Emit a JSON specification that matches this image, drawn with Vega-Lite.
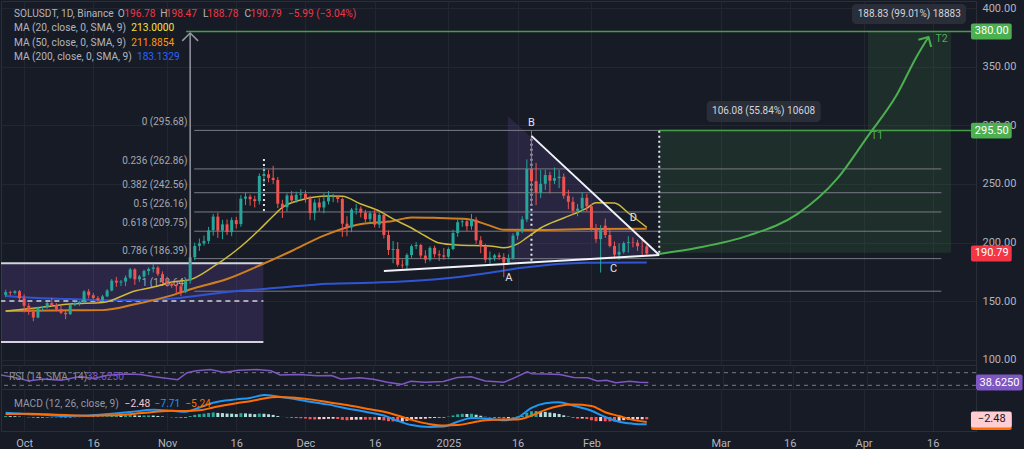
{
  "$schema": "https://vega.github.io/schema/vega-lite/v6.json",
  "background": "#171b26",
  "padding": 0,
  "spacing": 0,
  "bounds": "flush",
  "config": {
    "font": "Roboto",
    "view": {"stroke": "#2a2e39"},
    "axis": {"labelFont": "Roboto", "labelColor": "#b2b5be", "labelFontSize": 11, "ticks": false, "domainColor": "#2a2e39", "gridColor": "#222631", "minExtent": 0}
  },
  "datasets": {
    "candles": [
      {"d":"2024-09-27","o":155.5,"h":159.8,"l":153.5,"c":157.8},
      {"d":"2024-09-28","o":157.8,"h":159.0,"l":155.0,"c":157.2},
      {"d":"2024-09-29","o":157.2,"h":159.5,"l":155.8,"c":158.6},
      {"d":"2024-09-30","o":158.6,"h":159.6,"l":151.0,"c":152.6},
      {"d":"2024-10-01","o":152.6,"h":156.0,"l":140.5,"c":146.2},
      {"d":"2024-10-02","o":146.2,"h":148.5,"l":138.5,"c":141.0},
      {"d":"2024-10-03","o":141.0,"h":144.0,"l":133.0,"c":136.2},
      {"d":"2024-10-04","o":136.2,"h":145.5,"l":135.5,"c":144.5},
      {"d":"2024-10-05","o":144.5,"h":146.0,"l":142.0,"c":145.2},
      {"d":"2024-10-06","o":145.2,"h":149.5,"l":143.8,"c":148.5},
      {"d":"2024-10-07","o":148.5,"h":153.0,"l":145.5,"c":146.8},
      {"d":"2024-10-08","o":146.8,"h":148.5,"l":141.5,"c":143.2},
      {"d":"2024-10-09","o":143.2,"h":146.0,"l":139.0,"c":140.2},
      {"d":"2024-10-10","o":140.2,"h":141.8,"l":134.8,"c":139.0},
      {"d":"2024-10-11","o":139.0,"h":147.5,"l":138.5,"c":146.8},
      {"d":"2024-10-12","o":146.8,"h":149.5,"l":146.0,"c":148.6},
      {"d":"2024-10-13","o":148.6,"h":150.2,"l":146.2,"c":149.6},
      {"d":"2024-10-14","o":149.6,"h":159.5,"l":148.5,"c":158.4},
      {"d":"2024-10-15","o":158.4,"h":160.5,"l":152.5,"c":155.2},
      {"d":"2024-10-16","o":155.2,"h":157.0,"l":151.5,"c":152.8},
      {"d":"2024-10-17","o":152.8,"h":154.5,"l":148.8,"c":150.8},
      {"d":"2024-10-18","o":150.8,"h":155.5,"l":150.0,"c":154.2},
      {"d":"2024-10-19","o":154.2,"h":160.5,"l":153.5,"c":159.2},
      {"d":"2024-10-20","o":159.2,"h":169.0,"l":158.5,"c":167.6},
      {"d":"2024-10-21","o":167.6,"h":170.8,"l":162.5,"c":166.0},
      {"d":"2024-10-22","o":166.0,"h":168.2,"l":163.0,"c":166.8},
      {"d":"2024-10-23","o":166.8,"h":172.0,"l":163.0,"c":170.2},
      {"d":"2024-10-24","o":170.2,"h":178.5,"l":169.0,"c":177.2},
      {"d":"2024-10-25","o":177.2,"h":178.2,"l":164.0,"c":168.8},
      {"d":"2024-10-26","o":168.8,"h":172.5,"l":166.5,"c":171.2},
      {"d":"2024-10-27","o":171.2,"h":177.0,"l":170.0,"c":175.8},
      {"d":"2024-10-28","o":175.8,"h":179.0,"l":172.5,"c":177.6},
      {"d":"2024-10-29","o":177.6,"h":182.0,"l":174.5,"c":178.8},
      {"d":"2024-10-30","o":178.8,"h":180.0,"l":171.5,"c":173.2},
      {"d":"2024-10-31","o":173.2,"h":175.5,"l":165.0,"c":167.0},
      {"d":"2024-11-01","o":167.0,"h":171.0,"l":162.5,"c":165.0},
      {"d":"2024-11-02","o":165.0,"h":167.5,"l":161.5,"c":163.4},
      {"d":"2024-11-03","o":163.4,"h":165.0,"l":156.5,"c":162.8},
      {"d":"2024-11-04","o":162.8,"h":166.0,"l":154.5,"c":157.8},
      {"d":"2024-11-05","o":157.8,"h":169.5,"l":157.0,"c":167.6},
      {"d":"2024-11-06","o":167.6,"h":190.5,"l":165.0,"c":187.5},
      {"d":"2024-11-07","o":187.5,"h":200.0,"l":185.0,"c":197.2},
      {"d":"2024-11-08","o":197.2,"h":203.5,"l":193.0,"c":199.4},
      {"d":"2024-11-09","o":199.4,"h":206.0,"l":197.5,"c":201.5},
      {"d":"2024-11-10","o":201.5,"h":213.5,"l":199.0,"c":210.5},
      {"d":"2024-11-11","o":210.5,"h":224.5,"l":206.0,"c":222.2},
      {"d":"2024-11-12","o":222.2,"h":225.5,"l":204.0,"c":210.2},
      {"d":"2024-11-13","o":210.2,"h":219.5,"l":203.0,"c":215.6},
      {"d":"2024-11-14","o":215.6,"h":219.8,"l":206.5,"c":209.0},
      {"d":"2024-11-15","o":209.0,"h":221.5,"l":205.5,"c":219.2},
      {"d":"2024-11-16","o":219.2,"h":222.0,"l":212.0,"c":215.8},
      {"d":"2024-11-17","o":215.8,"h":240.5,"l":213.5,"c":237.5},
      {"d":"2024-11-18","o":237.5,"h":242.5,"l":232.0,"c":239.2},
      {"d":"2024-11-19","o":239.2,"h":241.0,"l":231.5,"c":237.0},
      {"d":"2024-11-20","o":237.0,"h":240.0,"l":230.0,"c":235.4},
      {"d":"2024-11-21","o":235.4,"h":259.0,"l":232.5,"c":256.8},
      {"d":"2024-11-22","o":256.8,"h":264.5,"l":250.5,"c":258.2},
      {"d":"2024-11-23","o":258.2,"h":262.0,"l":251.5,"c":255.2},
      {"d":"2024-11-24","o":255.2,"h":265.5,"l":250.0,"c":253.4},
      {"d":"2024-11-25","o":253.4,"h":256.0,"l":229.5,"c":233.2},
      {"d":"2024-11-26","o":233.2,"h":236.5,"l":221.0,"c":230.2},
      {"d":"2024-11-27","o":230.2,"h":242.0,"l":226.5,"c":240.2},
      {"d":"2024-11-28","o":240.2,"h":244.0,"l":233.0,"c":236.0},
      {"d":"2024-11-29","o":236.0,"h":243.5,"l":234.0,"c":240.8},
      {"d":"2024-11-30","o":240.8,"h":245.5,"l":236.5,"c":241.6},
      {"d":"2024-12-01","o":241.6,"h":244.5,"l":234.0,"c":237.5},
      {"d":"2024-12-02","o":237.5,"h":240.0,"l":219.5,"c":225.2},
      {"d":"2024-12-03","o":225.2,"h":237.0,"l":219.0,"c":234.2},
      {"d":"2024-12-04","o":234.2,"h":238.0,"l":226.5,"c":230.0},
      {"d":"2024-12-05","o":230.0,"h":242.0,"l":225.0,"c":235.2},
      {"d":"2024-12-06","o":235.2,"h":244.0,"l":232.5,"c":238.8},
      {"d":"2024-12-07","o":238.8,"h":241.5,"l":234.5,"c":239.2},
      {"d":"2024-12-08","o":239.2,"h":240.5,"l":234.0,"c":237.2},
      {"d":"2024-12-09","o":237.2,"h":238.5,"l":205.0,"c":216.2},
      {"d":"2024-12-10","o":216.2,"h":222.5,"l":205.5,"c":213.0},
      {"d":"2024-12-11","o":213.0,"h":229.5,"l":209.0,"c":228.2},
      {"d":"2024-12-12","o":228.2,"h":233.0,"l":224.0,"c":229.0},
      {"d":"2024-12-13","o":229.0,"h":231.0,"l":221.5,"c":225.6},
      {"d":"2024-12-14","o":225.6,"h":228.0,"l":217.5,"c":220.0},
      {"d":"2024-12-15","o":220.0,"h":227.0,"l":216.0,"c":225.0},
      {"d":"2024-12-16","o":225.0,"h":228.5,"l":213.0,"c":215.4},
      {"d":"2024-12-17","o":215.4,"h":225.5,"l":212.5,"c":223.6},
      {"d":"2024-12-18","o":223.6,"h":225.5,"l":203.5,"c":206.5},
      {"d":"2024-12-19","o":206.5,"h":210.5,"l":189.5,"c":193.8},
      {"d":"2024-12-20","o":193.8,"h":201.4,"l":182.5,"c":194.6},
      {"d":"2024-12-21","o":194.6,"h":200.5,"l":179.5,"c":181.2},
      {"d":"2024-12-22","o":181.2,"h":185.5,"l":178.0,"c":180.5},
      {"d":"2024-12-23","o":180.5,"h":191.0,"l":176.5,"c":189.5},
      {"d":"2024-12-24","o":189.5,"h":198.5,"l":187.0,"c":197.0},
      {"d":"2024-12-25","o":197.0,"h":200.5,"l":194.5,"c":198.0},
      {"d":"2024-12-26","o":198.0,"h":199.0,"l":186.5,"c":189.0},
      {"d":"2024-12-27","o":189.0,"h":193.5,"l":182.5,"c":185.6},
      {"d":"2024-12-28","o":185.6,"h":197.0,"l":184.0,"c":195.6},
      {"d":"2024-12-29","o":195.6,"h":197.5,"l":187.5,"c":190.2},
      {"d":"2024-12-30","o":190.2,"h":193.5,"l":184.5,"c":189.2},
      {"d":"2024-12-31","o":189.2,"h":195.5,"l":185.5,"c":188.0},
      {"d":"2025-01-01","o":188.0,"h":196.0,"l":186.5,"c":194.6},
      {"d":"2025-01-02","o":194.6,"h":211.0,"l":193.5,"c":208.2},
      {"d":"2025-01-03","o":208.2,"h":219.5,"l":205.0,"c":217.4},
      {"d":"2025-01-04","o":217.4,"h":220.5,"l":213.5,"c":218.2},
      {"d":"2025-01-05","o":218.2,"h":220.0,"l":210.0,"c":214.0},
      {"d":"2025-01-06","o":214.0,"h":224.5,"l":211.0,"c":219.6},
      {"d":"2025-01-07","o":219.6,"h":222.0,"l":199.0,"c":202.0},
      {"d":"2025-01-08","o":202.0,"h":205.5,"l":191.0,"c":197.0},
      {"d":"2025-01-09","o":197.0,"h":199.0,"l":183.0,"c":185.5},
      {"d":"2025-01-10","o":185.5,"h":192.5,"l":180.5,"c":187.2},
      {"d":"2025-01-11","o":187.2,"h":190.5,"l":184.5,"c":189.2},
      {"d":"2025-01-12","o":189.2,"h":191.5,"l":185.5,"c":187.8},
      {"d":"2025-01-13","o":187.8,"h":191.0,"l":170.5,"c":183.0},
      {"d":"2025-01-14","o":183.0,"h":190.0,"l":182.0,"c":186.8},
      {"d":"2025-01-15","o":186.8,"h":208.0,"l":185.5,"c":206.0},
      {"d":"2025-01-16","o":206.0,"h":212.0,"l":202.5,"c":209.8},
      {"d":"2025-01-17","o":209.8,"h":222.5,"l":208.0,"c":219.8},
      {"d":"2025-01-18","o":219.8,"h":271.0,"l":217.5,"c":262.8},
      {"d":"2025-01-19","o":262.8,"h":295.5,"l":231.5,"c":252.4},
      {"d":"2025-01-20","o":252.4,"h":268.0,"l":232.0,"c":242.6},
      {"d":"2025-01-21","o":242.6,"h":262.0,"l":238.0,"c":250.2},
      {"d":"2025-01-22","o":250.2,"h":262.0,"l":245.0,"c":257.6},
      {"d":"2025-01-23","o":257.6,"h":260.5,"l":242.0,"c":252.8},
      {"d":"2025-01-24","o":252.8,"h":264.0,"l":250.0,"c":255.0},
      {"d":"2025-01-25","o":255.0,"h":262.0,"l":246.5,"c":256.2},
      {"d":"2025-01-26","o":256.2,"h":259.0,"l":237.5,"c":240.0},
      {"d":"2025-01-27","o":240.0,"h":245.0,"l":228.5,"c":234.8},
      {"d":"2025-01-28","o":234.8,"h":239.0,"l":223.5,"c":227.2},
      {"d":"2025-01-29","o":227.2,"h":233.0,"l":222.5,"c":229.0},
      {"d":"2025-01-30","o":229.0,"h":243.0,"l":227.0,"c":238.2},
      {"d":"2025-01-31","o":238.2,"h":241.5,"l":226.5,"c":231.0},
      {"d":"2025-02-01","o":231.0,"h":233.0,"l":210.0,"c":212.6},
      {"d":"2025-02-02","o":212.6,"h":216.0,"l":200.0,"c":203.0},
      {"d":"2025-02-03","o":203.0,"h":215.0,"l":174.5,"c":211.0},
      {"d":"2025-02-04","o":214.5,"h":220.5,"l":204.0,"c":206.5},
      {"d":"2025-02-05","o":206.5,"h":211.5,"l":196.0,"c":197.2},
      {"d":"2025-02-06","o":197.2,"h":201.0,"l":186.5,"c":189.8},
      {"d":"2025-02-07","o":189.8,"h":199.5,"l":185.5,"c":192.2},
      {"d":"2025-02-08","o":192.2,"h":201.0,"l":190.5,"c":199.6},
      {"d":"2025-02-09","o":199.6,"h":205.5,"l":191.5,"c":200.4},
      {"d":"2025-02-10","o":200.4,"h":204.5,"l":196.0,"c":200.0},
      {"d":"2025-02-11","o":200.0,"h":202.5,"l":193.0,"c":197.0},
      {"d":"2025-02-12","o":197.0,"h":204.5,"l":189.5,"c":196.78},
      {"d":"2025-02-13","o":196.78,"h":198.47,"l":188.78,"c":190.79}
    ],
    "ma20": [
      {"d":"2024-09-27","p":141.8},{"d":"2024-10-04","p":144.6},{"d":"2024-10-11","p":147.7},{"d":"2024-10-18","p":148.9},
      {"d":"2024-10-25","p":158.8},{"d":"2024-10-30","p":163.0},{"d":"2024-11-02","p":166.5},{"d":"2024-11-06","p":168.5},
      {"d":"2024-11-11","p":179.5},{"d":"2024-11-16","p":193.5},{"d":"2024-11-21","p":211.0},{"d":"2024-11-24","p":222.7},
      {"d":"2024-11-26","p":230.0},{"d":"2024-11-30","p":236.4},{"d":"2024-12-06","p":239.8},{"d":"2024-12-09","p":239.5},
      {"d":"2024-12-13","p":233.0},{"d":"2024-12-17","p":227.0},{"d":"2024-12-20","p":220.2},{"d":"2024-12-24","p":212.5},
      {"d":"2024-12-27","p":205.7},{"d":"2024-12-30","p":199.7},{"d":"2025-01-03","p":198.0},{"d":"2025-01-10","p":197.2},
      {"d":"2025-01-13","p":195.7},{"d":"2025-01-16","p":198.9},{"d":"2025-01-18","p":204.2},{"d":"2025-01-21","p":212.5},
      {"d":"2025-01-26","p":221.0},{"d":"2025-01-31","p":229.5},{"d":"2025-02-02","p":234.0},{"d":"2025-02-06","p":233.8},
      {"d":"2025-02-09","p":225.3},{"d":"2025-02-13","p":213.0}
    ],
    "ma50": [
      {"d":"2024-09-27","p":141.8},{"d":"2024-10-11","p":142.3},{"d":"2024-10-18","p":142.5},{"d":"2024-10-25","p":147.5},
      {"d":"2024-11-01","p":154.0},{"d":"2024-11-07","p":161.4},{"d":"2024-11-14","p":169.0},{"d":"2024-11-21","p":180.5},
      {"d":"2024-11-28","p":192.9},{"d":"2024-12-05","p":206.0},{"d":"2024-12-12","p":215.0},{"d":"2024-12-20","p":218.5},
      {"d":"2024-12-24","p":221.5},{"d":"2024-12-30","p":221.0},{"d":"2025-01-05","p":220.2},{"d":"2025-01-10","p":214.5},
      {"d":"2025-01-13","p":211.0},{"d":"2025-01-21","p":210.8},{"d":"2025-01-31","p":211.6},{"d":"2025-02-13","p":211.9}
    ],
    "ma200": [
      {"d":"2024-09-27","p":154.5},{"d":"2024-10-04","p":152.8},{"d":"2024-10-11","p":152.0},{"d":"2024-10-18","p":151.0},
      {"d":"2024-10-25","p":151.0},{"d":"2024-11-02","p":152.3},{"d":"2024-11-14","p":158.0},{"d":"2024-11-25","p":161.5},
      {"d":"2024-12-06","p":165.0},{"d":"2024-12-15","p":165.8},{"d":"2024-12-30","p":169.0},{"d":"2025-01-10","p":174.4},
      {"d":"2025-01-17","p":178.6},{"d":"2025-01-31","p":182.9},{"d":"2025-02-13","p":183.1}
    ],
    "fib": [
      {"p":295.68,"t":"0 (295.68)"},{"p":262.86,"t":"0.236 (262.86)"},{"p":242.56,"t":"0.382 (242.56)"},
      {"p":226.16,"t":"0.5 (226.16)"},{"p":209.75,"t":"0.618 (209.75)"},{"p":186.39,"t":"0.786 (186.39)"},{"p":158.64,"t":"1 (158.64)"}
    ],
    "curve": [
      {"d":"2025-02-15T17:00:00Z","p":190.3},{"d":"2025-02-24T07:00:00Z","p":195.8},{"d":"2025-03-07T00:00:00Z","p":206.0},
      {"d":"2025-03-17T17:00:00Z","p":224.5},{"d":"2025-03-26T07:00:00Z","p":254.5},{"d":"2025-04-01T19:00:00Z","p":290.0},
      {"d":"2025-04-08T05:00:00Z","p":326.0},{"d":"2025-04-12T12:00:00Z","p":358.5},{"d":"2025-04-15T02:00:00Z","p":375.3}
    ],
    "rsi": [
      {"d":"2024-09-27","r":63},{"d":"2024-10-01","r":52},{"d":"2024-10-03","r":44},{"d":"2024-10-06","r":50},
      {"d":"2024-10-10","r":46},{"d":"2024-10-14","r":58},{"d":"2024-10-17","r":52},{"d":"2024-10-20","r":62},
      {"d":"2024-10-24","r":66},{"d":"2024-10-27","r":64},{"d":"2024-10-30","r":57},{"d":"2024-11-04","r":48},
      {"d":"2024-11-06","r":70},{"d":"2024-11-08","r":76},{"d":"2024-11-11","r":80},{"d":"2024-11-14","r":71},
      {"d":"2024-11-17","r":78},{"d":"2024-11-21","r":80},{"d":"2024-11-24","r":76},{"d":"2024-11-26","r":63},
      {"d":"2024-11-30","r":64},{"d":"2024-12-04","r":60},{"d":"2024-12-07","r":61},{"d":"2024-12-09","r":50},
      {"d":"2024-12-13","r":54},{"d":"2024-12-16","r":49},{"d":"2024-12-19","r":40},{"d":"2024-12-22","r":33},
      {"d":"2024-12-24","r":43},{"d":"2024-12-27","r":40},{"d":"2024-12-31","r":42},{"d":"2025-01-03","r":55},
      {"d":"2025-01-06","r":57},{"d":"2025-01-09","r":44},{"d":"2025-01-13","r":40},{"d":"2025-01-15","r":52},
      {"d":"2025-01-18","r":73},{"d":"2025-01-19","r":67},{"d":"2025-01-22","r":66},{"d":"2025-01-25","r":64},
      {"d":"2025-01-28","r":55},{"d":"2025-01-31","r":54},{"d":"2025-02-02","r":44},{"d":"2025-02-04","r":46},
      {"d":"2025-02-06","r":38},{"d":"2025-02-09","r":43},{"d":"2025-02-11","r":40},{"d":"2025-02-13","r":38.6}
    ],
    "macd": [
      {"d":"2024-09-27","m":4.5,"s":3.2},{"d":"2024-10-02","m":3.0,"s":3.4},{"d":"2024-10-06","m":2.2,"s":2.8},
      {"d":"2024-10-10","m":1.0,"s":2.0},{"d":"2024-10-15","m":1.5,"s":1.3},{"d":"2024-10-20","m":3.5,"s":1.8},
      {"d":"2024-10-24","m":5.2,"s":3.0},{"d":"2024-10-29","m":7.5,"s":5.2},{"d":"2024-11-02","m":6.5,"s":6.5},
      {"d":"2024-11-05","m":5.5,"s":6.3},{"d":"2024-11-08","m":10.0,"s":7.0},{"d":"2024-11-11","m":15.0,"s":10.0},
      {"d":"2024-11-16","m":18.5,"s":14.5},{"d":"2024-11-19","m":20.0,"s":16.5},{"d":"2024-11-22","m":23.0,"s":19.5},
      {"d":"2024-11-25","m":21.5,"s":21.0},{"d":"2024-11-28","m":19.5,"s":20.5},{"d":"2024-12-02","m":16.0,"s":18.5},
      {"d":"2024-12-06","m":13.0,"s":15.5},{"d":"2024-12-10","m":9.0,"s":12.5},{"d":"2024-12-14","m":5.5,"s":9.0},
      {"d":"2024-12-18","m":1.5,"s":5.5},{"d":"2024-12-21","m":-4.0,"s":1.5},{"d":"2024-12-24","m":-8.5,"s":-3.0},
      {"d":"2024-12-28","m":-10.5,"s":-7.5},{"d":"2024-12-31","m":-10.0,"s":-9.0},{"d":"2025-01-03","m":-5.0,"s":-8.5},
      {"d":"2025-01-06","m":-1.0,"s":-6.0},{"d":"2025-01-09","m":-1.5,"s":-3.5},{"d":"2025-01-13","m":-3.5,"s":-2.5},
      {"d":"2025-01-16","m":-0.5,"s":-2.5},{"d":"2025-01-19","m":9.5,"s":1.5},{"d":"2025-01-22","m":14.5,"s":7.5},
      {"d":"2025-01-25","m":15.5,"s":11.5},{"d":"2025-01-28","m":12.0,"s":13.0},{"d":"2025-02-01","m":6.5,"s":11.5},
      {"d":"2025-02-04","m":0.0,"s":5.0},{"d":"2025-02-07","m":-5.0,"s":1.0},{"d":"2025-02-10","m":-7.0,"s":-3.0},
      {"d":"2025-02-13","m":-7.71,"s":-5.24}
    ],
    "hist": [
      {"d":"2024-09-27","v":1.0},{"d":"2024-09-28","v":0.9},{"d":"2024-09-29","v":0.8},{"d":"2024-09-30","v":0.4},
      {"d":"2024-10-01","v":0.05},{"d":"2024-10-02","v":-0.4},{"d":"2024-10-03","v":-0.8},{"d":"2024-10-04","v":-0.7},
      {"d":"2024-10-05","v":-0.6},{"d":"2024-10-06","v":-0.4},{"d":"2024-10-07","v":-0.3},{"d":"2024-10-08","v":-0.4},
      {"d":"2024-10-09","v":-0.6},{"d":"2024-10-10","v":-0.7},{"d":"2024-10-11","v":-0.4},{"d":"2024-10-12","v":-0.2},
      {"d":"2024-10-13","v":-0.1},{"d":"2024-10-14","v":0.4},{"d":"2024-10-15","v":0.6},{"d":"2024-10-16","v":0.55},
      {"d":"2024-10-17","v":0.5},{"d":"2024-10-18","v":0.6},{"d":"2024-10-19","v":0.8},{"d":"2024-10-20","v":1.4},
      {"d":"2024-10-21","v":1.6},{"d":"2024-10-22","v":1.55},{"d":"2024-10-23","v":1.8},{"d":"2024-10-24","v":2.1},
      {"d":"2024-10-25","v":1.7},{"d":"2024-10-26","v":1.5},{"d":"2024-10-27","v":1.6},{"d":"2024-10-28","v":1.65},
      {"d":"2024-10-29","v":1.5},{"d":"2024-10-30","v":1.1},{"d":"2024-10-31","v":0.5},{"d":"2024-11-01","v":0.05},
      {"d":"2024-11-02","v":-0.4},{"d":"2024-11-03","v":-0.7},{"d":"2024-11-04","v":-1.0},{"d":"2024-11-05","v":-0.6},
      {"d":"2024-11-06","v":0.9},{"d":"2024-11-07","v":2.2},{"d":"2024-11-08","v":3.0},{"d":"2024-11-09","v":3.5},
      {"d":"2024-11-10","v":4.2},{"d":"2024-11-11","v":4.8},{"d":"2024-11-12","v":4.3},{"d":"2024-11-13","v":4.1},
      {"d":"2024-11-14","v":3.6},{"d":"2024-11-15","v":3.5},{"d":"2024-11-16","v":3.1},{"d":"2024-11-17","v":4.0},
      {"d":"2024-11-18","v":3.8},{"d":"2024-11-19","v":3.4},{"d":"2024-11-20","v":3.0},{"d":"2024-11-21","v":3.6},
      {"d":"2024-11-22","v":3.4},{"d":"2024-11-23","v":2.9},{"d":"2024-11-24","v":2.2},{"d":"2024-11-25","v":1.0},
      {"d":"2024-11-26","v":0.05},{"d":"2024-11-27","v":-0.4},{"d":"2024-11-28","v":-0.9},{"d":"2024-11-29","v":-1.1},
      {"d":"2024-11-30","v":-1.3},{"d":"2024-12-01","v":-1.6},{"d":"2024-12-02","v":-2.4},{"d":"2024-12-03","v":-2.6},
      {"d":"2024-12-04","v":-2.4},{"d":"2024-12-05","v":-2.2},{"d":"2024-12-06","v":-1.9},{"d":"2024-12-07","v":-1.8},
      {"d":"2024-12-08","v":-2.1},{"d":"2024-12-09","v":-3.0},{"d":"2024-12-10","v":-3.4},{"d":"2024-12-11","v":-3.0},
      {"d":"2024-12-12","v":-2.8},{"d":"2024-12-13","v":-2.7},{"d":"2024-12-14","v":-2.75},{"d":"2024-12-15","v":-2.8},
      {"d":"2024-12-16","v":-3.0},{"d":"2024-12-17","v":-2.95},{"d":"2024-12-18","v":-3.6},{"d":"2024-12-19","v":-4.4},
      {"d":"2024-12-20","v":-4.6},{"d":"2024-12-21","v":-4.9},{"d":"2024-12-22","v":-4.8},{"d":"2024-12-23","v":-4.0},
      {"d":"2024-12-24","v":-3.0},{"d":"2024-12-25","v":-2.2},{"d":"2024-12-26","v":-2.0},{"d":"2024-12-27","v":-1.8},
      {"d":"2024-12-28","v":-1.2},{"d":"2024-12-29","v":-1.0},{"d":"2024-12-30","v":-0.7},{"d":"2024-12-31","v":-0.6},
      {"d":"2025-01-01","v":0.4},{"d":"2025-01-02","v":1.6},{"d":"2025-01-03","v":2.8},{"d":"2025-01-04","v":3.3},
      {"d":"2025-01-05","v":3.2},{"d":"2025-01-06","v":3.4},{"d":"2025-01-07","v":2.4},{"d":"2025-01-08","v":1.3},
      {"d":"2025-01-09","v":0.2},{"d":"2025-01-10","v":-0.6},{"d":"2025-01-11","v":-1.0},{"d":"2025-01-12","v":-1.3},
      {"d":"2025-01-13","v":-1.6},{"d":"2025-01-14","v":-1.5},{"d":"2025-01-15","v":-0.4},{"d":"2025-01-16","v":0.5},
      {"d":"2025-01-17","v":1.4},{"d":"2025-01-18","v":4.5},{"d":"2025-01-19","v":6.0},{"d":"2025-01-20","v":6.3},
      {"d":"2025-01-21","v":5.8},{"d":"2025-01-22","v":5.4},{"d":"2025-01-23","v":4.6},{"d":"2025-01-24","v":4.0},
      {"d":"2025-01-25","v":3.2},{"d":"2025-01-26","v":1.8},{"d":"2025-01-27","v":0.4},{"d":"2025-01-28","v":-0.9},
      {"d":"2025-01-29","v":-1.7},{"d":"2025-01-30","v":-1.6},{"d":"2025-01-31","v":-2.2},{"d":"2025-02-01","v":-3.4},
      {"d":"2025-02-02","v":-4.4},{"d":"2025-02-03","v":-4.3},{"d":"2025-02-04","v":-4.5},{"d":"2025-02-05","v":-4.6},
      {"d":"2025-02-06","v":-4.7},{"d":"2025-02-07","v":-4.0},{"d":"2025-02-08","v":-3.3},{"d":"2025-02-09","v":-2.8},
      {"d":"2025-02-10","v":-2.6},{"d":"2025-02-11","v":-2.5},{"d":"2025-02-12","v":-2.45},{"d":"2025-02-13","v":-2.48}
    ]
  },
  "vconcat": [
    {
      "width": 975,
      "height": 364,
      "layer": [
        {
          "data": {"values": [
            {"d":"2025-02-15T17:00:00Z","d2":"2025-04-20T00:00:00Z","p":191.4,"p2":295.5},
            {"d":"2025-04-01T23:00:00Z","d2":"2025-04-20T00:00:00Z","p":295.5,"p2":380}
          ]},
          "mark": {"type": "rect", "color": "#4caf50", "opacity": 0.13},
          "encoding": {
            "x": {"field": "d", "type": "temporal",
              "scale": {"type": "utc", "domain": [{"year":2024,"month":9,"date":27,"hours":1,"minutes":45,"utc":true},{"year":2025,"month":4,"date":24,"hours":7,"minutes":12,"utc":true}]},
              "axis": {"title": null, "labels": false, "domain": false, "ticks": false, "grid": true,
                "values": [{"year":2024,"month":10,"date":1,"utc":true},{"year":2024,"month":10,"date":16,"utc":true},{"year":2024,"month":11,"date":1,"utc":true},{"year":2024,"month":11,"date":16,"utc":true},{"year":2024,"month":12,"date":1,"utc":true},{"year":2024,"month":12,"date":16,"utc":true},{"year":2025,"month":1,"date":1,"utc":true},{"year":2025,"month":1,"date":16,"utc":true},{"year":2025,"month":2,"date":1,"utc":true},{"year":2025,"month":3,"date":1,"utc":true},{"year":2025,"month":3,"date":16,"utc":true},{"year":2025,"month":4,"date":1,"utc":true},{"year":2025,"month":4,"date":16,"utc":true}]}},
            "x2": {"field": "d2"},
            "y": {"field": "p", "type": "quantitative",
              "scale": {"domain": [95.73, 405.97], "nice": false, "zero": false},
              "axis": {"title": null, "orient": "right", "values": [100,125,150,175,200,225,250,275,300,325,350,375,400], "format": ".2f", "grid": true, "labelPadding": 6, "domain": true}},
            "y2": {"field": "p2"}
          }
        },
        {
          "data": {"values": [{"d":"2024-09-20","d2":"2024-11-21T21:00:00Z","p":115.3,"p2":182.4}]},
          "mark": {"type": "rect", "color": "#7e57c2", "opacity": 0.2, "clip": true},
          "encoding": {"x": {"field": "d", "type": "temporal"}, "x2": {"field": "d2"}, "y": {"field": "p", "type": "quantitative"}, "y2": {"field": "p2"}}
        },
        {
          "data": {"values": [{"d":"2025-01-13T21:00:00Z","p":308,"p2":182.7},{"d":"2025-02-15T17:00:00Z","p":189.5,"p2":189.5}]},
          "mark": {"type": "area", "color": "#7e57c2", "opacity": 0.17},
          "encoding": {"x": {"field": "d", "type": "temporal"}, "y": {"field": "p", "type": "quantitative"}, "y2": {"field": "p2"}}
        },
        {
          "data": {"name": "fib"},
          "mark": {"type": "rule", "color": "#787b86", "strokeWidth": 1},
          "encoding": {
            "x": {"datum": {"year":2024,"month":11,"date":6,"hours":21,"utc":true}, "type": "temporal"},
            "x2": {"datum": {"year":2025,"month":4,"date":17,"hours":21,"utc":true}},
            "y": {"field": "p", "type": "quantitative"}
          }
        },
        {
          "data": {"name": "fib"},
          "mark": {"type": "text", "color": "#a5a8b1", "fontSize": 10, "align": "right", "baseline": "middle", "dy": -8},
          "encoding": {
            "x": {"datum": {"year":2024,"month":11,"date":5,"hours":10,"utc":true}, "type": "temporal"},
            "y": {"field": "p", "type": "quantitative"},
            "text": {"field": "t"}
          }
        },
        {
          "data": {"values": [{"d":"2024-09-20","d2":"2024-11-21T21:00:00Z","p":182.4},{"d":"2024-09-20","d2":"2024-11-21T21:00:00Z","p":115.3}]},
          "mark": {"type": "rule", "color": "#d1d4dc", "strokeWidth": 2, "clip": true},
          "encoding": {"x": {"field": "d", "type": "temporal"}, "x2": {"field": "d2"}, "y": {"field": "p", "type": "quantitative"}}
        },
        {
          "data": {"values": [{"d":"2024-09-20","d2":"2024-11-21T21:00:00Z","p":150.3}]},
          "mark": {"type": "rule", "color": "#d1d4dc", "strokeWidth": 1.5, "strokeDash": [5, 4], "clip": true},
          "encoding": {"x": {"field": "d", "type": "temporal"}, "x2": {"field": "d2"}, "y": {"field": "p", "type": "quantitative"}}
        },
        {
          "mark": {"type": "rule", "color": "#f23645", "strokeWidth": 1, "strokeDash": [1, 2], "opacity": 0.8},
          "encoding": {"y": {"datum": 190.79, "type": "quantitative"}}
        },
        {
          "data": {"values": [{"d":"2024-11-05T03:00:00Z","p":380},{"d":"2025-02-15T17:00:00Z","p":295.5}]},
          "mark": {"type": "rule", "color": "#43a047", "strokeWidth": 1.5},
          "encoding": {"x": {"field": "d", "type": "temporal"}, "x2": {"datum": {"year":2025,"month":4,"date":24,"hours":7,"minutes":12,"utc":true}}, "y": {"field": "p", "type": "quantitative"}}
        },
        {
          "data": {"values": [{"d":"2025-02-15T17:00:00Z","p":191.4,"p2":295.5},{"d":"2025-01-19","p":184.5,"p2":290},{"d":"2024-11-22","p":227,"p2":271.3}]},
          "mark": {"type": "rule", "color": "#e0e3eb", "strokeWidth": 2, "strokeDash": [2, 3]},
          "encoding": {"x": {"field": "d", "type": "temporal"}, "y": {"field": "p", "type": "quantitative"}, "y2": {"field": "p2"}}
        },
        {
          "data": {"name": "ma200"},
          "mark": {"type": "line", "color": "#2f55d4", "strokeWidth": 2, "interpolate": "monotone", "clip": true},
          "encoding": {"x": {"field": "d", "type": "temporal"}, "y": {"field": "p", "type": "quantitative"}}
        },
        {
          "data": {"name": "ma50"},
          "mark": {"type": "line", "color": "#cf7f1f", "strokeWidth": 2, "interpolate": "monotone", "clip": true},
          "encoding": {"x": {"field": "d", "type": "temporal"}, "y": {"field": "p", "type": "quantitative"}}
        },
        {
          "data": {"name": "ma20"},
          "mark": {"type": "line", "color": "#cdb93a", "strokeWidth": 1.5, "interpolate": "monotone", "clip": true},
          "encoding": {"x": {"field": "d", "type": "temporal"}, "y": {"field": "p", "type": "quantitative"}}
        },
        {
          "data": {"name": "candles"},
          "mark": {"type": "rule", "strokeWidth": 1, "clip": true},
          "encoding": {
            "x": {"field": "d", "type": "temporal"},
            "y": {"field": "l", "type": "quantitative"},
            "y2": {"field": "h"},
            "color": {"condition": {"test": "datum.c >= datum.o", "value": "#26a69a"}, "value": "#ef5350"}
          }
        },
        {
          "data": {"name": "candles"},
          "mark": {"type": "bar", "size": 3, "clip": true},
          "encoding": {
            "x": {"field": "d", "type": "temporal"},
            "y": {"field": "o", "type": "quantitative"},
            "y2": {"field": "c"},
            "color": {"condition": {"test": "datum.c >= datum.o", "value": "#26a69a"}, "value": "#ef5350"}
          }
        },
        {
          "data": {"values": [{"d":"2025-01-19","p":291,"d2":"2025-02-15T17:00:00Z","p2":189.5},{"d":"2024-12-18","p":175.8,"d2":"2025-02-15T17:00:00Z","p2":189.5}]},
          "mark": {"type": "rule", "color": "#f0f3fa", "strokeWidth": 2},
          "encoding": {"x": {"field": "d", "type": "temporal"}, "x2": {"field": "d2"}, "y": {"field": "p", "type": "quantitative"}, "y2": {"field": "p2"}}
        },
        {
          "data": {"values": [{"d":"2024-11-06","p":182.4,"p2":378.7}]},
          "mark": {"type": "rule", "color": "#9598a1", "strokeWidth": 1.5},
          "encoding": {"x": {"field": "d", "type": "temporal"}, "y": {"field": "p", "type": "quantitative"}, "y2": {"field": "p2"}}
        },
        {
          "data": {"values": [{"d":"2024-11-06","p":378.7}]},
          "mark": {"type": "point", "shape": "M-1,1L0,0L1,1", "size": 250, "filled": false, "stroke": "#9598a1", "strokeWidth": 1.5, "opacity": 1},
          "encoding": {"x": {"field": "d", "type": "temporal"}, "y": {"field": "p", "type": "quantitative"}}
        },
        {
          "data": {"name": "curve"},
          "mark": {"type": "line", "color": "#4caf50", "strokeWidth": 2, "interpolate": "monotone"},
          "encoding": {"x": {"field": "d", "type": "temporal"}, "y": {"field": "p", "type": "quantitative"}}
        },
        {
          "data": {"values": [{"d":"2025-04-15T02:00:00Z","p":375.3}]},
          "mark": {"type": "point", "shape": "M-1,1L0,0L1,1", "size": 220, "filled": false, "stroke": "#4caf50", "strokeWidth": 2, "angle": 30, "opacity": 1},
          "encoding": {"x": {"field": "d", "type": "temporal"}, "y": {"field": "p", "type": "quantitative"}}
        },
        {
          "data": {"values": [
            {"d":"2025-01-19","p":302.0,"t":"B"},{"d":"2025-01-14T02:00:00Z","p":169.9,"t":"A"},
            {"d":"2025-02-05T19:00:00Z","p":177.6,"t":"C"},{"d":"2025-02-10T02:00:00Z","p":221.0,"t":"D"}
          ]},
          "mark": {"type": "text", "color": "#e0e3eb", "fontSize": 11, "align": "center", "baseline": "middle"},
          "encoding": {"x": {"field": "d", "type": "temporal"}, "y": {"field": "p", "type": "quantitative"}, "text": {"field": "t"}}
        },
        {
          "data": {"values": [{"d":"2025-04-03T22:00:00Z","p":290.9,"t":"T1"},{"d":"2025-04-17T22:00:00Z","p":373.6,"t":"T2"}]},
          "mark": {"type": "text", "color": "#4caf50", "fontSize": 10.5, "align": "center", "baseline": "middle"},
          "encoding": {"x": {"field": "d", "type": "temporal"}, "y": {"field": "p", "type": "quantitative"}, "text": {"field": "t"}}
        },
        {
          "data": {"values": [
            {"d":"2025-02-26","d2":"2025-03-22T17:00:00Z","p":302.8,"p2":320.7},
            {"d":"2025-03-29T12:00:00Z","d2":"2025-04-23T05:00:00Z","p":386.4,"p2":403.4}
          ]},
          "mark": {"type": "rect", "color": "#2a2e39", "cornerRadius": 4},
          "encoding": {"x": {"field": "d", "type": "temporal"}, "x2": {"field": "d2"}, "y": {"field": "p", "type": "quantitative"}, "y2": {"field": "p2"}}
        },
        {
          "data": {"values": [
            {"d":"2025-03-10T08:00:00Z","p":311.8,"t":"106.08 (55.84%) 10608"},
            {"d":"2025-04-10T22:00:00Z","p":394.9,"t":"188.83 (99.01%) 18883"}
          ]},
          "mark": {"type": "text", "color": "#d1d4dc", "fontSize": 10, "align": "center", "baseline": "middle"},
          "encoding": {"x": {"field": "d", "type": "temporal"}, "y": {"field": "p", "type": "quantitative"}, "text": {"field": "t"}}
        },
        {
          "data": {"values": [
            {"d":"2024-09-28T19:00:00Z","p":394.9,"t":"SOLUSDT, 1D, Binance"},
            {"d":"2024-10-21T07:00:00Z","p":394.9,"t":"O"},
            {"d":"2024-10-30T12:00:00Z","p":394.9,"t":"H"},
            {"d":"2024-11-08T19:00:00Z","p":394.9,"t":"L"},
            {"d":"2024-11-17T19:00:00Z","p":394.9,"t":"C"},
            {"d":"2024-09-28T19:00:00Z","p":382.6,"t":"MA (20, close, 0, SMA, 9)"},
            {"d":"2024-09-28T19:00:00Z","p":370.3,"t":"MA (50, close, 0, SMA, 9)"},
            {"d":"2024-09-28T19:00:00Z","p":358.4,"t":"MA (200, close, 0, SMA, 9)"}
          ]},
          "mark": {"type": "text", "color": "#b2b5be", "fontSize": 10.2, "align": "left", "baseline": "middle"},
          "encoding": {"x": {"field": "d", "type": "temporal"}, "y": {"field": "p", "type": "quantitative"}, "text": {"field": "t"}}
        },
        {
          "data": {"values": [
            {"d":"2024-10-22T17:00:00Z","p":394.9,"t":"196.78"},
            {"d":"2024-10-31T17:00:00Z","p":394.9,"t":"198.47"},
            {"d":"2024-11-09T17:00:00Z","p":394.9,"t":"188.78"},
            {"d":"2024-11-19T02:00:00Z","p":394.9,"t":"190.79"},
            {"d":"2024-11-27T05:00:00Z","p":394.9,"t":"−5.99 (−3.04%)"}
          ]},
          "mark": {"type": "text", "color": "#f23645", "fontSize": 10.2, "align": "left", "baseline": "middle"},
          "encoding": {"x": {"field": "d", "type": "temporal"}, "y": {"field": "p", "type": "quantitative"}, "text": {"field": "t"}}
        },
        {
          "data": {"values": [{"d":"2024-10-24T06:00:00Z","p":382.6,"t":"213.0000"}]},
          "mark": {"type": "text", "color": "#f7e13b", "fontSize": 10.2, "align": "left", "baseline": "middle"},
          "encoding": {"x": {"field": "d", "type": "temporal"}, "y": {"field": "p", "type": "quantitative"}, "text": {"field": "t"}}
        },
        {
          "data": {"values": [{"d":"2024-10-24T06:00:00Z","p":370.3,"t":"211.8854"}]},
          "mark": {"type": "text", "color": "#ff9800", "fontSize": 10.2, "align": "left", "baseline": "middle"},
          "encoding": {"x": {"field": "d", "type": "temporal"}, "y": {"field": "p", "type": "quantitative"}, "text": {"field": "t"}}
        },
        {
          "data": {"values": [{"d":"2024-10-25T11:00:00Z","p":358.4,"t":"183.1329"}]},
          "mark": {"type": "text", "color": "#2962ff", "fontSize": 10.2, "align": "left", "baseline": "middle"},
          "encoding": {"x": {"field": "d", "type": "temporal"}, "y": {"field": "p", "type": "quantitative"}, "text": {"field": "t"}}
        },
        {
          "data": {"values": [
            {"d":"2025-04-24T07:00:00Z","d2":"2025-05-03T03:00:00Z","p":373.2,"p2":386.8},
            {"d":"2025-04-24T07:00:00Z","d2":"2025-05-03T03:00:00Z","p":288.7,"p2":302.3}
          ]},
          "mark": {"type": "rect", "color": "#4caf50", "cornerRadius": 2},
          "encoding": {"x": {"field": "d", "type": "temporal"}, "x2": {"field": "d2"}, "y": {"field": "p", "type": "quantitative"}, "y2": {"field": "p2"}}
        },
        {
          "data": {"values": [{"d":"2025-04-24T07:00:00Z","d2":"2025-05-03T03:00:00Z","p":184.0,"p2":197.6}]},
          "mark": {"type": "rect", "color": "#f23645", "cornerRadius": 2},
          "encoding": {"x": {"field": "d", "type": "temporal"}, "x2": {"field": "d2"}, "y": {"field": "p", "type": "quantitative"}, "y2": {"field": "p2"}}
        },
        {
          "data": {"values": [
            {"d":"2025-04-28T19:00:00Z","p":380,"t":"380.00"},
            {"d":"2025-04-28T19:00:00Z","p":295.5,"t":"295.50"},
            {"d":"2025-04-28T19:00:00Z","p":190.79,"t":"190.79"}
          ]},
          "mark": {"type": "text", "color": "#ffffff", "fontSize": 11, "align": "center", "baseline": "middle"},
          "encoding": {"x": {"field": "d", "type": "temporal"}, "y": {"field": "p", "type": "quantitative"}, "text": {"field": "t"}}
        }
      ]
    },
    {
      "width": 975,
      "height": 24,
      "layer": [
        {
          "mark": {"type": "rect", "color": "#7e57c2", "opacity": 0.1},
          "encoding": {"y": {"datum": 70, "type": "quantitative"}, "y2": {"datum": 30}}
        },
        {
          "data": {"values": [{"r":70},{"r":30}]},
          "mark": {"type": "rule", "color": "#787b86", "strokeDash": [4, 4], "strokeWidth": 1},
          "encoding": {"y": {"field": "r", "type": "quantitative"}}
        },
        {
          "data": {"name": "rsi"},
          "mark": {"type": "line", "color": "#7e57c2", "strokeWidth": 1.5, "clip": true},
          "encoding": {
            "x": {"field": "d", "type": "temporal",
              "scale": {"type": "utc", "domain": [{"year":2024,"month":9,"date":27,"hours":1,"minutes":45,"utc":true},{"year":2025,"month":4,"date":24,"hours":7,"minutes":12,"utc":true}]},
              "axis": {"title": null, "labels": false, "domain": false, "ticks": false, "grid": true,
                "values": [{"year":2024,"month":10,"date":1,"utc":true},{"year":2024,"month":10,"date":16,"utc":true},{"year":2024,"month":11,"date":1,"utc":true},{"year":2024,"month":11,"date":16,"utc":true},{"year":2024,"month":12,"date":1,"utc":true},{"year":2024,"month":12,"date":16,"utc":true},{"year":2025,"month":1,"date":1,"utc":true},{"year":2025,"month":1,"date":16,"utc":true},{"year":2025,"month":2,"date":1,"utc":true},{"year":2025,"month":3,"date":1,"utc":true},{"year":2025,"month":3,"date":16,"utc":true},{"year":2025,"month":4,"date":1,"utc":true},{"year":2025,"month":4,"date":16,"utc":true}]}},
            "y": {"field": "r", "type": "quantitative",
              "scale": {"domain": [18.3, 94.4], "nice": false, "zero": false},
              "axis": {"title": null, "orient": "right", "labels": false, "grid": false, "domain": true}}
          }
        },
        {
          "data": {"values": [{"d":"2024-09-28T19:00:00Z","r":56.3,"t":"RSI (14, SMA, 14)"}]},
          "mark": {"type": "text", "color": "#8b8e98", "fontSize": 10.2, "align": "left", "baseline": "middle"},
          "encoding": {"x": {"field": "d", "type": "temporal"}, "y": {"field": "r", "type": "quantitative"}, "text": {"field": "t"}}
        },
        {
          "data": {"values": [{"d":"2024-10-15T12:00:00Z","r":56.3,"t":"38.6250"}]},
          "mark": {"type": "text", "color": "#7e57c2", "fontSize": 10.2, "align": "left", "baseline": "middle"},
          "encoding": {"x": {"field": "d", "type": "temporal"}, "y": {"field": "r", "type": "quantitative"}, "text": {"field": "t"}}
        },
        {
          "data": {"values": [{"d":"2025-04-24T07:00:00Z","d2":"2025-05-04T07:00:00Z","r":13.2,"r2":64.0}]},
          "mark": {"type": "rect", "color": "#7e57c2", "cornerRadius": 2},
          "encoding": {"x": {"field": "d", "type": "temporal"}, "x2": {"field": "d2"}, "y": {"field": "r", "type": "quantitative"}, "y2": {"field": "r2"}}
        },
        {
          "data": {"values": [{"d":"2025-04-29T08:00:00Z","r":38.625,"t":"38.6250"}]},
          "mark": {"type": "text", "color": "#ffffff", "fontSize": 11, "align": "center", "baseline": "middle"},
          "encoding": {"x": {"field": "d", "type": "temporal"}, "y": {"field": "r", "type": "quantitative"}, "text": {"field": "t"}}
        }
      ]
    },
    {
      "width": 975,
      "height": 42,
      "layer": [
        {
          "data": {"name": "hist"},
          "transform": [{"window": [{"op": "lag", "field": "v", "as": "pv"}], "sort": [{"field": "d"}]}],
          "mark": {"type": "bar", "size": 3, "clip": true},
          "encoding": {
            "x": {"field": "d", "type": "temporal",
              "scale": {"type": "utc", "domain": [{"year":2024,"month":9,"date":27,"hours":1,"minutes":45,"utc":true},{"year":2025,"month":4,"date":24,"hours":7,"minutes":12,"utc":true}]},
              "axis": {"title": null, "labels": true, "domain": true, "ticks": false, "grid": true, "labelPadding": 6,
                "labelExpr": "utcdate(datum.value) == 1 ? (utcmonth(datum.value) == 0 ? '' + utcyear(datum.value) : utcFormat(datum.value, '%b')) : '' + utcdate(datum.value)",
                "values": [{"year":2024,"month":10,"date":1,"utc":true},{"year":2024,"month":10,"date":16,"utc":true},{"year":2024,"month":11,"date":1,"utc":true},{"year":2024,"month":11,"date":16,"utc":true},{"year":2024,"month":12,"date":1,"utc":true},{"year":2024,"month":12,"date":16,"utc":true},{"year":2025,"month":1,"date":1,"utc":true},{"year":2025,"month":1,"date":16,"utc":true},{"year":2025,"month":2,"date":1,"utc":true},{"year":2025,"month":3,"date":1,"utc":true},{"year":2025,"month":3,"date":16,"utc":true},{"year":2025,"month":4,"date":1,"utc":true},{"year":2025,"month":4,"date":16,"utc":true}]}},
            "y": {"field": "v", "type": "quantitative",
              "scale": {"domain": [-14.7, 29.4], "nice": false, "zero": false},
              "axis": {"title": null, "orient": "right", "labels": false, "grid": false, "domain": true}},
            "y2": {"datum": 0},
            "color": {"condition": [
              {"test": "datum.v >= 0 && (datum.pv == null || datum.v >= datum.pv)", "value": "#26a69a"},
              {"test": "datum.v >= 0", "value": "#b2dfdb"},
              {"test": "datum.v < datum.pv", "value": "#ff5252"}
            ], "value": "#ffcdd2"}
          }
        },
        {
          "data": {"name": "macd"},
          "mark": {"type": "line", "color": "#2196f3", "strokeWidth": 2, "interpolate": "monotone", "clip": true},
          "encoding": {"x": {"field": "d", "type": "temporal"}, "y": {"field": "m", "type": "quantitative"}}
        },
        {
          "data": {"name": "macd"},
          "mark": {"type": "line", "color": "#ff6d00", "strokeWidth": 2, "interpolate": "monotone", "clip": true},
          "encoding": {"x": {"field": "d", "type": "temporal"}, "y": {"field": "s", "type": "quantitative"}}
        },
        {
          "data": {"values": [{"d":"2024-09-28T19:00:00Z","v":14,"t":"MACD (12, 26, close, 9)"}]},
          "mark": {"type": "text", "color": "#9598a1", "fontSize": 10.2, "align": "left", "baseline": "middle"},
          "encoding": {"x": {"field": "d", "type": "temporal"}, "y": {"field": "v", "type": "quantitative"}, "text": {"field": "t"}}
        },
        {
          "data": {"values": [{"d":"2024-10-22T19:00:00Z","v":14,"t":"−2.48"}]},
          "mark": {"type": "text", "color": "#f8c8cc", "fontSize": 10.2, "align": "left", "baseline": "middle"},
          "encoding": {"x": {"field": "d", "type": "temporal"}, "y": {"field": "v", "type": "quantitative"}, "text": {"field": "t"}}
        },
        {
          "data": {"values": [{"d":"2024-10-29T07:00:00Z","v":14,"t":"−7.71"}]},
          "mark": {"type": "text", "color": "#2196f3", "fontSize": 10.2, "align": "left", "baseline": "middle"},
          "encoding": {"x": {"field": "d", "type": "temporal"}, "y": {"field": "v", "type": "quantitative"}, "text": {"field": "t"}}
        },
        {
          "data": {"values": [{"d":"2024-11-04T22:00:00Z","v":14,"t":"−5.24"}]},
          "mark": {"type": "text", "color": "#ff6d00", "fontSize": 10.2, "align": "left", "baseline": "middle"},
          "encoding": {"x": {"field": "d", "type": "temporal"}, "y": {"field": "v", "type": "quantitative"}, "text": {"field": "t"}}
        },
        {
          "data": {"values": [{"d":"2025-04-24T07:00:00Z","d2":"2025-05-03T03:00:00Z","v":-13.6,"v2":3.2}]},
          "mark": {"type": "rect", "color": "#ff6d00", "cornerRadius": 2},
          "encoding": {"x": {"field": "d", "type": "temporal"}, "x2": {"field": "d2"}, "y": {"field": "v", "type": "quantitative"}, "y2": {"field": "v2"}}
        },
        {
          "data": {"values": [{"d":"2025-04-24T07:00:00Z","d2":"2025-05-03T03:00:00Z","v":-10.9,"v2":5.9}]},
          "mark": {"type": "rect", "color": "#ffcdd2", "cornerRadius": 2},
          "encoding": {"x": {"field": "d", "type": "temporal"}, "x2": {"field": "d2"}, "y": {"field": "v", "type": "quantitative"}, "y2": {"field": "v2"}}
        },
        {
          "data": {"values": [{"d":"2025-04-28T19:00:00Z","v":-2.48,"t":"−2.48"}]},
          "mark": {"type": "text", "color": "#131722", "fontSize": 11, "align": "center", "baseline": "middle"},
          "encoding": {"x": {"field": "d", "type": "temporal"}, "y": {"field": "v", "type": "quantitative"}, "text": {"field": "t"}}
        }
      ]
    }
  ]
}
